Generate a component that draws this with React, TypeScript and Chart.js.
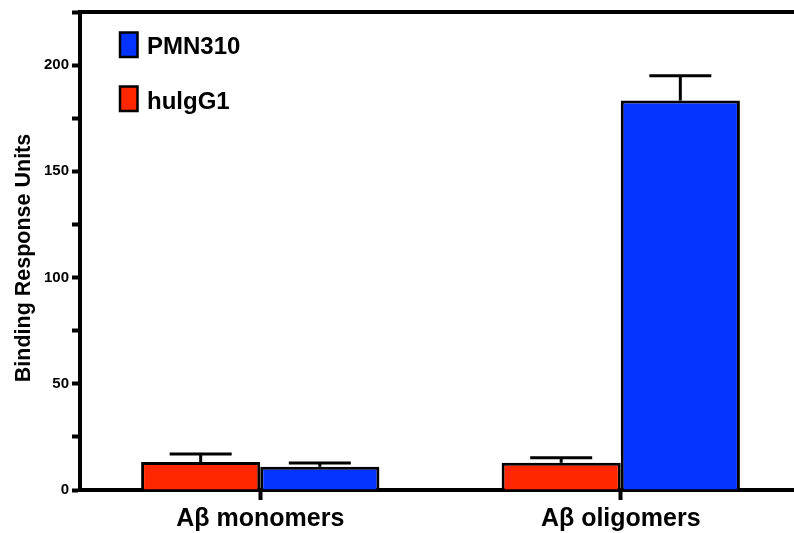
import React, { useEffect, useRef } from "react";
import { Chart, registerables } from "chart.js";

Chart.register(...registerables);

const categories = ["Aβ monomers", "Aβ oligomers"];
const hulgG1Values = [13.2, 12.8];
const hulgG1Errors = [3.7, 2.4];
const pmn310Values = [10.9, 183.3];
const pmn310Errors = [1.8, 11.7];
const yMax = 225;
const yStep = 25;
const yLabelStep = 50;
const yTitle = "Binding Response Units";
const legendLabels = ["PMN310", "hulgG1"];

const RED = "#FF2600";
const BLUE = "#0433FF";
const FONT = "'Liberation Sans', Arial, Helvetica, sans-serif";

export default function App() {
  const ref = useRef<HTMLCanvasElement | null>(null);

  useEffect(() => {
    const canvas = ref.current;
    if (!canvas) return;

    const errors = [hulgG1Errors, pmn310Errors];

    const errorBarPlugin = {
      id: "errorBars",
      afterDatasetsDraw(chart: any) {
        const ctx = chart.ctx;
        const yScale = chart.scales.y;
        ctx.save();
        ctx.strokeStyle = "#000";
        chart.data.datasets.forEach((ds: any, di: number) => {
          const meta = chart.getDatasetMeta(di);
          meta.data.forEach((el: any, i: number) => {
            const v = ds.data[i] as number;
            const e = errors[di][i];
            const yTop = yScale.getPixelForValue(v + e);
            const yBar = yScale.getPixelForValue(v);
            const halfCap = 31;
            ctx.lineWidth = 3;
            ctx.beginPath();
            ctx.moveTo(el.x, yBar);
            ctx.lineTo(el.x, yTop);
            ctx.stroke();
            ctx.beginPath();
            ctx.moveTo(el.x - halfCap, yTop);
            ctx.lineTo(el.x + halfCap, yTop);
            ctx.stroke();
          });
        });
        ctx.restore();
      },
    };

    const decorPlugin = {
      id: "decor",
      afterDraw(chart: any) {
        const ctx = chart.ctx;
        const area = chart.chartArea;
        ctx.save();
        // top frame line
        ctx.strokeStyle = "#000";
        ctx.lineWidth = 4;
        ctx.beginPath();
        ctx.moveTo(area.left - 2, area.top);
        ctx.lineTo(chart.width, area.top);
        ctx.stroke();

        // y axis title
        ctx.save();
        ctx.translate(29.5, 258);
        ctx.rotate(-Math.PI / 2);
        ctx.font = `bold 21.5px ${FONT}`;
        ctx.fillStyle = "#000";
        ctx.textAlign = "center";
        ctx.textBaseline = "alphabetic";
        ctx.fillText(yTitle, 0, 0);
        ctx.restore();

        // legend
        const items = [
          { label: legendLabels[0], color: BLUE, boxY: 32.5, baseY: 53.5 },
          { label: legendLabels[1], color: RED, boxY: 86.5, baseY: 108.5 },
        ];
        items.forEach((it) => {
          ctx.fillStyle = it.color;
          ctx.fillRect(120, it.boxY, 17.5, 24.5);
          ctx.lineWidth = 2.5;
          ctx.strokeStyle = "#000";
          ctx.strokeRect(120, it.boxY, 17.5, 24.5);
          ctx.fillStyle = "#000";
          ctx.font = `bold 24px ${FONT}`;
          ctx.textAlign = "left";
          ctx.textBaseline = "alphabetic";
          ctx.fillText(it.label, 147, it.baseY);
        });
        ctx.restore();
      },
    };

    const chart = new Chart(canvas, {
      type: "bar",
      data: {
        labels: categories,
        datasets: [
          {
            label: legendLabels[1],
            data: hulgG1Values,
            backgroundColor: RED,
            borderColor: "#000",
            borderWidth: 3,
            barPercentage: 1,
            categoryPercentage: 0.661,
          },
          {
            label: legendLabels[0],
            data: pmn310Values,
            backgroundColor: BLUE,
            borderColor: "#000",
            borderWidth: 3,
            barPercentage: 1,
            categoryPercentage: 0.661,
          },
        ],
      },
      options: {
        responsive: false,
        animation: false,
        devicePixelRatio: 1,
        layout: { padding: { top: 11, left: 0, right: 0, bottom: 0 } },
        plugins: {
          legend: { display: false },
          tooltip: { enabled: false },
          title: { display: false },
        },
        scales: {
          x: {
            offset: true,
            grid: {
              display: true,
              offset: false,
              drawOnChartArea: false,
              drawTicks: true,
              tickLength: 10,
              tickWidth: 4,
              tickColor: "#000",
            },
            border: { display: true, color: "#000", width: 4 },
            ticks: {
              color: "#000",
              padding: 4,
              maxRotation: 0,
              font: { family: FONT, size: 25, weight: "bold" },
            },
            afterFit(scale: any) {
              scale.height = 43;
            },
          },
          y: {
            min: 0,
            max: yMax,
            grid: {
              display: true,
              drawOnChartArea: false,
              drawTicks: true,
              tickLength: 8,
              tickWidth: 4,
              tickColor: "#000",
            },
            border: { display: true, color: "#000", width: 4 },
            ticks: {
              stepSize: yStep,
              color: "#000",
              padding: 3,
              font: { family: FONT, size: 15, weight: "bold" },
              callback: (v: any) => (Number(v) % yLabelStep === 0 ? String(v) : ""),
            },
            afterFit(scale: any) {
              scale.width = 80;
            },
          },
        },
      },
      plugins: [errorBarPlugin, decorPlugin],
    } as any);

    return () => chart.destroy();
  }, []);

  return (
    <div
      style={{
        position: "fixed",
        left: 0,
        top: 0,
        width: 794,
        height: 533,
        overflow: "hidden",
        background: "#fff",
      }}
    >
      <canvas ref={ref} width={801} height={533} style={{ display: "block", width: 801, height: 533 }} />
    </div>
  );
}
